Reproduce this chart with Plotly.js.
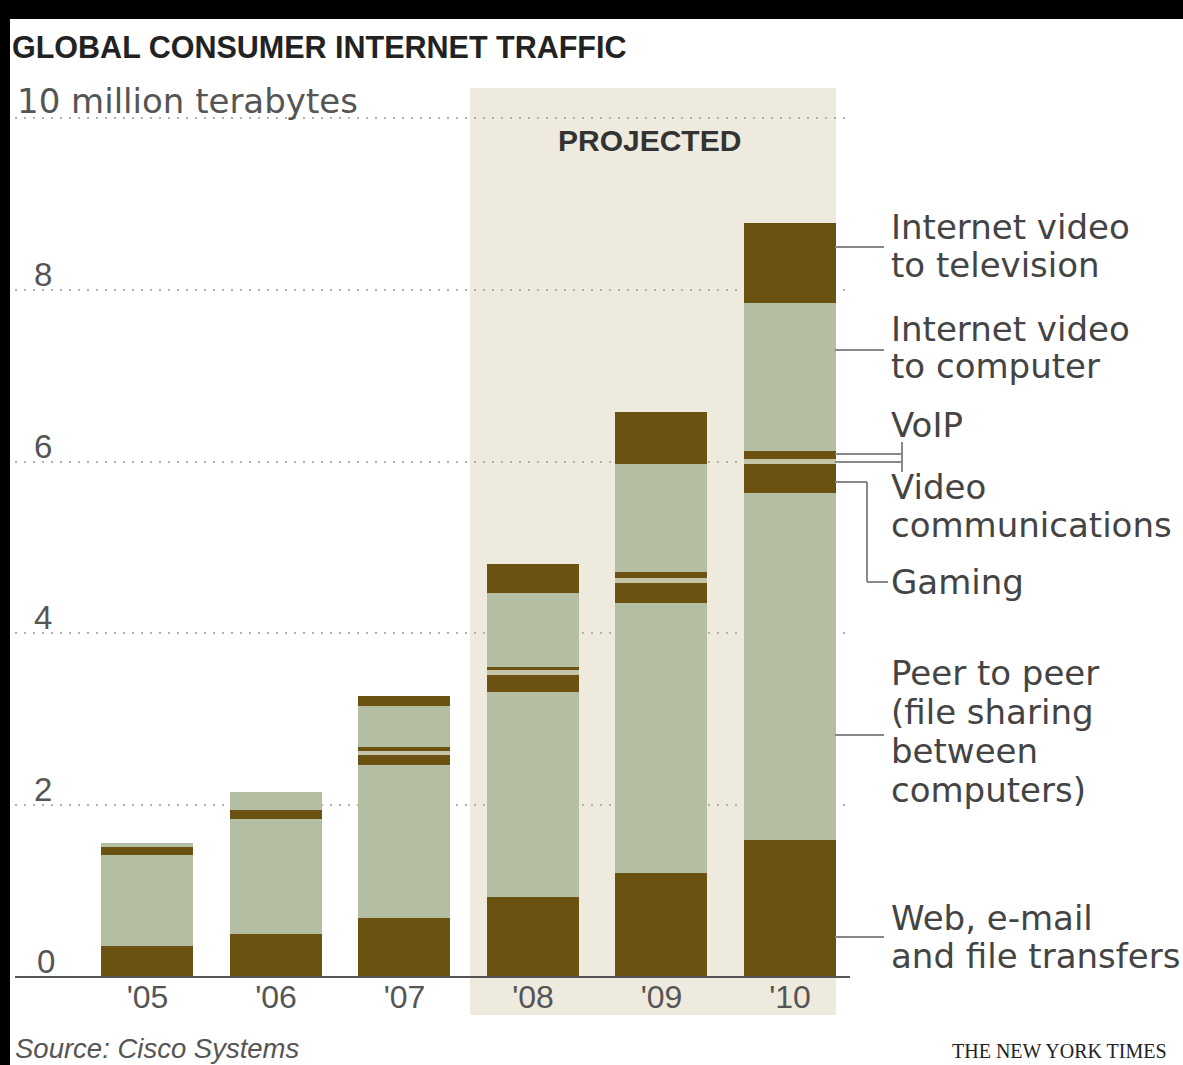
<!DOCTYPE html>
<html>
<head>
<meta charset="utf-8">
<script src="https://cdn.plot.ly/plotly-3.0.1.min.js"></script>
<style>
  html, body { margin: 0; padding: 0; background: #000; width: 1183px; height: 1065px; overflow: hidden; }
  #chart { position: absolute; left: 10px; top: 19px; width: 1173px; height: 1046px; background: #fff; }
</style>
</head>
<body>
<div id="chart"></div>
<script>
// ---- data (10 million terabytes) ----
const years = ["'05", "'06", "'07", "'08", "'09", "'10"];
const projectedYears = ["'08", "'09", "'10"];
const webEmail   = [0.36, 0.50, 0.69, 0.93, 1.21, 1.59];
const peerToPeer = [1.06, 1.34, 1.78, 2.39, 3.14, 4.05];
const gaming     = [0.09, 0.10, 0.12, 0.20, 0.24, 0.33];
const videoComm  = [0.00, 0.00, 0.04, 0.05, 0.06, 0.06];
const voip       = [0.00, 0.00, 0.05, 0.04, 0.06, 0.09];
const videoToPC  = [0.05, 0.21, 0.47, 0.86, 1.26, 1.73];
const videoToTV  = [0.00, 0.00, 0.12, 0.34, 0.61, 0.93];
const yTickVals  = [0, 2, 4, 6, 8, 10];
const yTickText  = ["0", "2", "4", "6", "8", "10 million terabytes"];
const seriesNames = {
  web: ["Web, e-mail", "and file transfers"],
  p2p: ["Peer to peer", "(file sharing", "between", "computers)"],
  gaming: ["Gaming"],
  videoComm: ["Video", "communications"],
  voip: ["VoIP"],
  pc: ["Internet video", "to computer"],
  tv: ["Internet video", "to television"]
};

// ---- style ----
const DARK = '#6b5211';
const LIGHT = '#b4bea3';
const PALE = '#c4c5a8';
const SHADE = '#eeebde';
const WORD_FONT = 'DejaVu Sans, Verdana, sans-serif';
const NUM_FONT = 'Liberation Sans Narrow, Liberation Sans, Arial, sans-serif';

// page-pixel helpers (layout only)
const DIV_L = 10, DIV_T = 19, DIV_W = 1173, DIV_H = 1046;
const PLOT_L = 15, PLOT_R = 850, PLOT_T = 88, PLOT_B = 1015;
const px = p => (p - PLOT_L) / (PLOT_R - PLOT_L);
const py = p => (PLOT_B - p) / (PLOT_B - PLOT_T);

const Y_MIN = -0.4424, Y_MAX = 10.349;
const BAR_W = 0.716;

function bar(name, vals, color) {
  return { type: 'bar', name: name, x: years, y: vals, width: BAR_W,
           marker: { color: color, line: { width: 0 } }, hoverinfo: 'skip' };
}
const traces = [
  bar('Web, e-mail and file transfers', webEmail, DARK),
  bar('Peer to peer', peerToPeer, LIGHT),
  bar('Gaming', gaming, DARK),
  bar('Video communications', videoComm, PALE),
  bar('VoIP', voip, DARK),
  bar('Internet video to computer', videoToPC, LIGHT),
  bar('Internet video to television', videoToTV, DARK)
];

const annotations = [];
// y tick labels
yTickVals.forEach((v, i) => {
  const isLast = i === yTickVals.length - 1;
  annotations.push({ xref: 'paper', yref: 'y', x: 0, y: v, xanchor: 'left', yanchor: 'bottom',
    xshift: isLast ? 0 : (v === 0 ? 20 : 17), yshift: -5, showarrow: false,
    text: yTickText[i],
    font: { family: isLast ? WORD_FONT : NUM_FONT, size: isLast ? 34 : 33, color: '#555' } });
});
// right-side labels
function label(lines, firstY, gap) {
  lines.forEach((t, i) => {
    annotations.push({ xref: 'paper', yref: 'paper', x: px(890), y: py(firstY + i * gap),
      xanchor: 'left', yanchor: 'middle', showarrow: false, text: t, borderpad: 0,
      font: { family: WORD_FONT, size: 34, color: '#444' } });
  });
}
label(seriesNames.tv, 227, 37.5);
label(seriesNames.pc, 329, 37.5);
label(seriesNames.voip, 425, 37);
label(seriesNames.videoComm, 487, 37.5);
label(seriesNames.gaming, 582, 37);
label(seriesNames.p2p, 673, 39);
label(seriesNames.web, 918, 37.5);
// PROJECTED
annotations.push({ xref: 'paper', yref: 'paper', x: px(649), y: py(141), xanchor: 'center', yanchor: 'middle',
  showarrow: false, text: '<b>PROJECTED</b>', font: { family: 'Liberation Sans, Arial, sans-serif', size: 30, color: '#333' } });
// footer
annotations.push({ xref: 'paper', yref: 'paper', x: px(14), y: py(1048), xanchor: 'left', yanchor: 'middle',
  showarrow: false, borderpad: 0, text: '<i>Source: Cisco Systems</i>', font: { family: 'Liberation Sans, Arial, sans-serif', size: 27.5, color: '#555' } });
annotations.push({ xref: 'paper', yref: 'paper', x: px(951), y: py(1051), xanchor: 'left', yanchor: 'middle',
  showarrow: false, borderpad: 0, text: 'THE NEW YORK TIMES', font: { family: 'Liberation Serif, Times New Roman, serif', size: 20, color: '#222' } });

// leader lines
const LC = '#888';
function seg(x0, y0, x1, y1) {
  return { type: 'line', xref: 'paper', yref: 'paper', x0: px(x0), y0: py(y0), x1: px(x1), y1: py(y1),
           line: { color: LC, width: 2 }, layer: 'above' };
}
const shapes = [
  { type: 'rect', xref: 'x', yref: 'paper', x0: years.indexOf(projectedYears[0]) - 0.49,
    x1: years.indexOf(projectedYears[projectedYears.length - 1]) + BAR_W / 2,
    y0: 0, y1: 1, fillcolor: SHADE, line: { width: 0 }, layer: 'below' },
  seg(835, 247, 884, 247),
  seg(835, 350, 884, 350),
  seg(835, 454, 902, 454),
  seg(835, 462, 902, 462),
  seg(902, 442, 902, 472),
  seg(835, 482, 867, 482),
  seg(867, 482, 867, 582),
  seg(867, 582, 888, 582),
  seg(835, 735, 884, 735),
  seg(835, 937, 884, 937)
];

const layout = {
  width: DIV_W, height: DIV_H,
  margin: { l: PLOT_L - DIV_L, r: DIV_W - (PLOT_R - DIV_L), t: PLOT_T - DIV_T, b: DIV_H - (PLOT_B - DIV_T), pad: 0 },
  paper_bgcolor: '#fff', plot_bgcolor: 'rgba(0,0,0,0)',
  barmode: 'stack', showlegend: false, hovermode: false,
  title: { text: '<b>GLOBAL CONSUMER INTERNET TRAFFIC</b>', xref: 'container', yref: 'container',
           x: 2 / DIV_W, xanchor: 'left', y: 1 - (47 - DIV_T) / DIV_H, yanchor: 'middle',
           font: { family: 'Liberation Sans, Arial, sans-serif', size: 30.5, color: '#222' } },
  xaxis: { type: 'category', range: [-1.031, 5.467], fixedrange: true,
           anchor: 'free', position: (0 - Y_MIN) / (Y_MAX - Y_MIN),
           showline: true, linecolor: '#555', linewidth: 2, showgrid: false, zeroline: false,
           ticks: '', ticklabelstandoff: -8,
           tickfont: { family: NUM_FONT, size: 32, color: '#555' } },
  yaxis: { range: [Y_MIN, Y_MAX], fixedrange: true, showticklabels: false, ticks: '',
           tickvals: yTickVals.filter(v => v > 0), showgrid: true, gridcolor: '#b0b0b0', gridwidth: 2,
           griddash: '2px,7px', zeroline: false, showline: false },
  annotations: annotations,
  shapes: shapes
};

Plotly.newPlot('chart', traces, layout, { displayModeBar: false, staticPlot: true });
</script>
</body>
</html>
